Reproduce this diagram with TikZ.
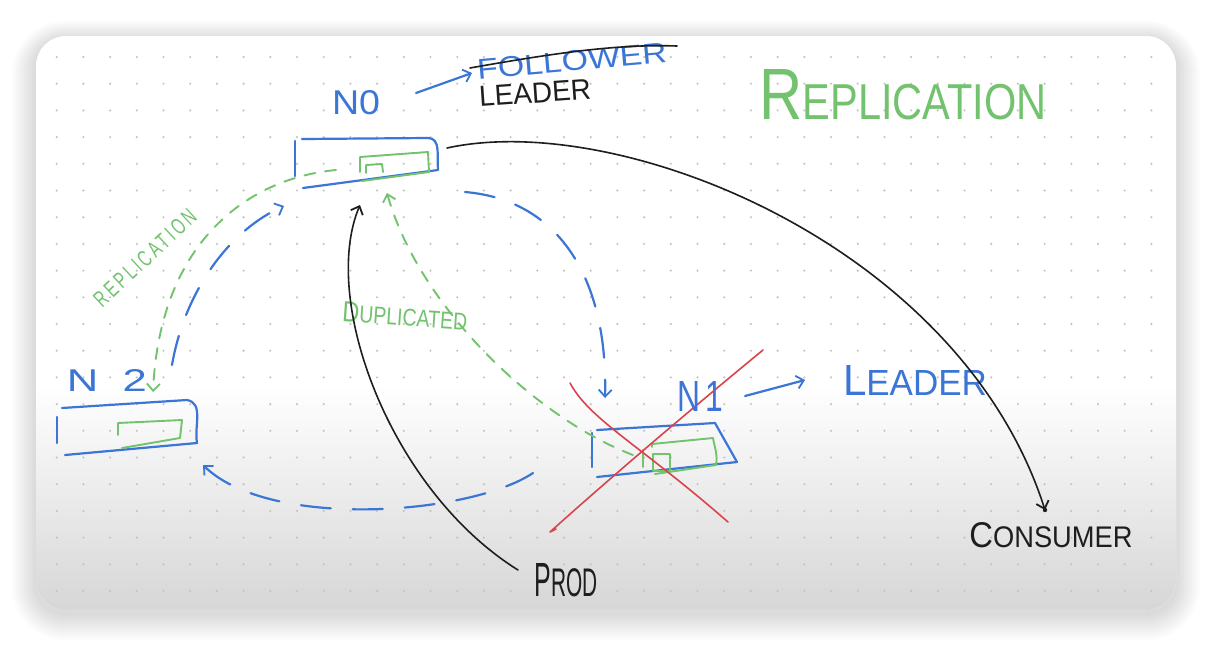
\documentclass[tikz,border=0pt]{standalone}
\usepackage{fontspec}
\setmainfont{Liberation Sans}
\usetikzlibrary{arrows.meta,calc}
\definecolor{penblue}{HTML}{3B76D6}
\definecolor{pengreen}{HTML}{72C26E}
\definecolor{penred}{HTML}{D8444C}
\definecolor{penblack}{HTML}{1E1E1E}
\definecolor{dotgray}{HTML}{C4C4C4}
\newcommand\fitT[3]{\resizebox{#1pt}{#2pt}{#3}}
\begin{document}
\begin{tikzpicture}[x=1pt,y=-1pt,
  pen/.style={line width=2.2pt, line cap=round, line join=round},
  bluepen/.style={pen, draw=penblue},
  greenpen/.style={pen, draw=pengreen, line width=1.9pt},
  redpen/.style={pen, draw=penred, line width=1.6pt},
  blackpen/.style={pen, draw=penblack, line width=1.6pt},
  bluedash/.style={bluepen, dash pattern=on 30pt off 22pt},
  greendash/.style={greenpen, dash pattern=on 11pt off 10pt},
  barb/.style={-{Straight Barb[length=7pt,width=13pt,line width=1.8pt]}},
  lbl/.style={inner sep=0pt, outer sep=0pt}]
\useasboundingbox (0,0) rectangle (1212,646);
% shadow
\foreach \i [evaluate=\i as \r using 30+2*\i] in {1,...,12}
  \fill[black, opacity=0.013, rounded corners=\r pt]
    (36-2*\i, 40-1.6*\i) rectangle (1176+2*\i, 614+2.2*\i);
% card
\fill[white, rounded corners=30pt] (36,36) rectangle (1176,610);
\begin{scope}
  \clip[rounded corners=30pt] (36,36) rectangle (1176,610);
  \shade[top color=white, bottom color=black!16] (36,385) rectangle (1176,611);
\end{scope}
% dot grid
\foreach \x in {0,...,41}
  \foreach \y in {0,...,20}
    \fill[dotgray] (56.7+26.7*\x, 57+26.7*\y) circle (1.2pt);

% ---------- N0 box ----------
\draw[bluepen] (295,141) -- (295,176);
\draw[bluepen] (302,139) -- (428,138) to[out=0,in=95] (438,170) -- (303,188);
\draw[greenpen] (360,172) -- (360,157) -- (428,152) -- (429,172) -- (362,181);
\draw[greenpen] (366,173) -- (366,165) -- (382,164) -- (383,172);
\coordinate (n0right) at (447,148);
\coordinate (n0rb) at (465,192);
\coordinate (n0in) at (336,170);
\coordinate (n0bot) at (360,205);
\coordinate (n0dup) at (387,193);
\coordinate (n0lft) at (284,206);

% ---------- N2 box ----------
\draw[bluepen] (57,417) -- (57,443);
\draw[bluepen] (62,408) -- (187,400) to[out=-10,in=100] (197,443) -- (65,455);
\draw[greenpen] (118,435) -- (118,423) -- (182,420) -- (180,438) -- (122,448);
\coordinate (n2top) at (153,392);
\coordinate (n2up) at (172,365);
\coordinate (n2br) at (203,465);

% ---------- N1 box ----------
\draw[bluepen] (592,433) -- (592,467);
\draw[bluepen] (597,430) -- (715,423) -- (737,462) -- (597,477);
\draw[greenpen] (652,447) -- (652,444) -- (713,438) to[out=-80,in=80] (716,465) -- (655,474);
\draw[greenpen] (643,450) -- (643,467);
\draw[greenpen] (653,454) rectangle (670,471);
\coordinate (n1in) at (633,455);
\coordinate (n1top) at (605,398);
\coordinate (n1bl) at (533,473);

% ---------- red cross ----------
\draw[redpen] (763,350) .. controls (690,410) and (610,478) .. (550,532) -- (556,529);
\draw[redpen] (570,383) .. controls (590,420) and (640,445) .. (728,522);

% ---------- labels ----------
\node[lbl, text=penblue] (lN0) at (356,103) {\fitT{48}{24}{N0}};
\node[lbl, text=penblue, rotate=5] (lfol) at (572,61) {\fitT{190}{20}{FOLLOWER}};
\node[lbl, text=penblack, rotate=4] (lleadA) at (535,93) {\fitT{112}{20}{LEADER}};
\node[lbl, text=pengreen] (lrep) at (903,95) {\fitT{287}{50}{{\Large R}EPLICATION}};
\node[lbl, text=penblue] (lN2) at (107,380) {\fitT{80}{22}{N\ \ 2}};
\node[lbl, text=pengreen, rotate=43] (lrep2) at (145,258) {\fitT{131}{16}{\addfontfeature{LetterSpace=20}REPLICATION}};
\node[lbl, text=pengreen, rotate=-4] (ldup) at (405,316) {\fitT{125}{20}{{\large D}UPLICATED}};
\node[lbl, text=penblue] (lN1) at (700,396) {\fitT{46}{30}{N\,1}};
\node[lbl, text=penblue] (llead) at (915,380) {\fitT{144}{30}{{\large L}EADER}};
\node[lbl, text=penblack] (lprod) at (566,580) {\fitT{63}{33}{{\large P}ROD}};
\node[lbl, text=penblack] (lcons) at (1051,535) {\fitT{163}{25}{{\large C}ONSUMER}};
\coordinate (prodtail) at (518,570);
\coordinate (constip) at (1045,510);

% strike-through of FOLLOWER
\draw[blackpen] (470,68) .. controls (560,52) and (620,44) .. (677,46);

% small label arrows
\draw[bluepen, barb] ($(lN0.east)+(36,-10)$) coordinate (a0) -- ++(56,-20);
\draw[bluepen, barb] ($(lN1.east)+(22,0)$) coordinate (a1) -- ++(60,-16);

% ---------- connectors ----------
\draw[bluedash, barb] (n0rb) .. controls (560,200) and (608,280) .. (n1top);
\draw[bluedash, barb] (n1bl) .. controls (470,515) and (270,530) .. (n2br);
\draw[bluedash, barb] (n2up) .. controls (185,290) and (230,230) .. (n0lft);
\draw[greendash, barb] (n0in) .. controls (250,178) and (160,240) .. (n2top);
\draw[greendash, barb] (n1in) .. controls (540,420) and (420,310) .. (n0dup);
\draw[blackpen, barb] (prodtail) .. controls (390,490) and (320,300) .. (n0bot);
\draw[blackpen, barb] (n0right) .. controls (620,110) and (960,245) .. (constip);
\fill[penblack] (constip) circle (2.2pt);
\end{tikzpicture}
\end{document}
